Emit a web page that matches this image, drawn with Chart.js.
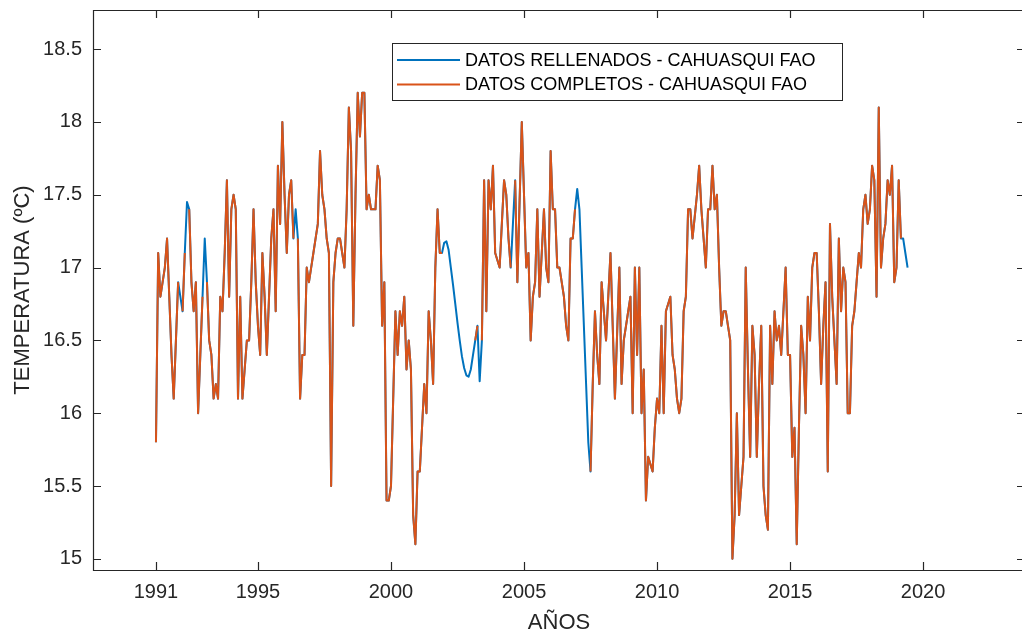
<!DOCTYPE html>
<html>
<head>
<meta charset="utf-8">
<title>Temperatura - Cahuasqui FAO</title>
<script src="https://cdn.jsdelivr.net/npm/chart.js@4.4.1/dist/chart.umd.min.js"></script>
<style>
  html, body { margin: 0; padding: 0; background: #fff; overflow: hidden; }
  #wrap { width: 1040px; height: 639px; }
</style>
</head>
<body>
<div id="wrap"><canvas id="tempChart" width="1040" height="639"></canvas></div>
<script>
// serie mensual, desde marzo de 1991
const startYear = 1991;
const startMonth = 3;

// temperatura media mensual (ºC), una fila por año
const tempSeries = [
  /* 1991 */ 15.8, 17.1, 16.8, 16.9, 17.0, 17.2, 16.8, 16.4, 16.1, 16.5,
  /* 1992 */ 16.9, 16.8, 16.7, 17.1, 17.45, 17.4, 16.9, 16.7, 16.9, 16.0, 16.4, 16.8,
  /* 1993 */ 17.2, 16.9, 16.5, 16.4, 16.1, 16.2, 16.1, 16.8, 16.7, 17.1, 17.6, 16.8,
  /* 1994 */ 17.4, 17.5, 17.4, 16.1, 16.8, 16.1, 16.3, 16.5, 16.5, 16.9, 17.4, 16.9,
  /* 1995 */ 16.6, 16.4, 17.1, 16.8, 16.4, 16.8, 17.2, 17.4, 16.7, 17.7, 17.3, 18.0,
  /* 1996 */ 17.5, 17.1, 17.5, 17.6, 17.2, 17.4, 17.2, 16.1, 16.4, 16.4, 17.0, 16.9,
  /* 1997 */ 17.0, 17.1, 17.2, 17.3, 17.8, 17.5, 17.4, 17.2, 17.1, 15.5, 16.9, 17.1,
  /* 1998 */ 17.2, 17.2, 17.1, 17.0, 17.4, 18.1, 17.8, 16.6, 17.5, 18.2, 17.9, 18.2,
  /* 1999 */ 18.2, 17.4, 17.5, 17.4, 17.4, 17.4, 17.7, 17.6, 16.6, 16.9, 15.4, 15.4,
  /* 2000 */ 15.5, 16.1, 16.7, 16.4, 16.7, 16.6, 16.8, 16.3, 16.5, 16.3, 15.3, 15.1,
  /* 2001 */ 15.6, 15.6, 15.9, 16.2, 16.0, 16.7, 16.5, 16.2, 17.0, 17.4, 17.1, 17.1,
  /* 2002 */ 17.17, 17.18, 17.12, 17.0, 16.88, 16.75, 16.62, 16.5, 16.39, 16.31, 16.26, 16.25,
  /* 2003 */ 16.3, 16.4, 16.5, 16.6, 16.22, 16.5, 17.6, 16.7, 17.6, 17.4, 17.7, 17.1,
  /* 2004 */ 17.05, 17.0, 17.3, 17.6, 17.5, 17.2, 17.0, 17.3, 17.6, 16.9, 17.45, 18.0,
  /* 2005 */ 17.5, 17.0, 17.1, 16.5, 16.8, 16.9, 17.4, 16.8, 17.1, 17.4, 17.0, 16.9,
  /* 2006 */ 17.8, 17.4, 17.4, 17.0, 17.0, 16.9, 16.8, 16.6, 16.5, 17.2, 17.2, 17.4,
  /* 2007 */ 17.54, 17.4, 17.0, 16.6, 16.2, 15.8, 15.6, 16.2, 16.7, 16.4, 16.2, 16.9,
  /* 2008 */ 16.7, 16.5, 16.8, 17.1, 16.6, 16.1, 16.55, 17.0, 16.2, 16.5, 16.6, 16.7,
  /* 2009 */ 16.8, 16.0, 17.0, 16.4, 17.0, 16.0, 16.3, 15.4, 15.7, 15.65, 15.6, 15.9,
  /* 2010 */ 16.1, 16.0, 16.6, 16.0, 16.7, 16.75, 16.8, 16.4, 16.3, 16.1, 16.0, 16.1,
  /* 2011 */ 16.7, 16.8, 17.4, 17.4, 17.2, 17.35, 17.5, 17.7, 17.4, 17.2, 17.0, 17.4,
  /* 2012 */ 17.4, 17.7, 17.4, 17.5, 17.0, 16.6, 16.7, 16.7, 16.6, 16.5, 15.0, 15.3,
  /* 2013 */ 16.0, 15.3, 15.5, 15.7, 17.0, 16.3, 15.7, 16.6, 16.4, 15.7, 16.2, 16.6,
  /* 2014 */ 15.5, 15.3, 15.2, 16.6, 16.2, 16.7, 16.5, 16.6, 16.4, 16.7, 17.0, 16.4,
  /* 2015 */ 16.4, 15.7, 15.9, 15.1, 15.9, 16.6, 16.4, 16.0, 16.8, 16.5, 17.0, 17.1,
  /* 2016 */ 17.1, 16.7, 16.2, 16.6, 16.9, 15.6, 17.3, 16.8, 16.5, 16.2, 17.2, 16.7,
  /* 2017 */ 17.0, 16.9, 16.0, 16.0, 16.6, 16.7, 16.9, 17.1, 17.0, 17.4, 17.5, 17.3,
  /* 2018 */ 17.4, 17.7, 17.6, 16.8, 18.1, 17.0, 17.2, 17.3, 17.6, 17.5, 17.7, 16.9,
  /* 2019 */ 17.0, 17.6, 17.2, 17.2, 17.1, 17.0
];

// meses sin dato original (posición en tempSeries), completados por relleno
const filledMonths = [
  11, 14, 22, 63,
  130, 131, 132, 133, 134, 135, 136, 137, 138, 139, 140, 141, 142, 143,
  146, 161,
  190, 191, 192, 193, 194, 195,
  337, 338, 339
];

const xTicks = [1991 + 2 / 12, 1995, 2000, 2005, 2010, 2015, 2020];
const xTickLabels = ['1991', '1995', '2000', '2005', '2010', '2015', '2020'];
const yTicks = [15, 15.5, 16, 16.5, 17, 17.5, 18, 18.5];
const yTickLabels = ['15', '15.5', '16', '16.5', '17', '17.5', '18', '18.5'];

const AXIS = '#262626';
const FONT = '"Liberation Sans", Arial, Helvetica, sans-serif';
Chart.defaults.font.family = FONT;

const monthX = i => startYear + (startMonth - 1 + i) / 12;
const rellenados = tempSeries.map((t, i) => ({ x: monthX(i), y: t }));
const completos = tempSeries.map((t, i) => ({ x: monthX(i), y: filledMonths.includes(i) ? null : t }));

// sin márgenes extra por las etiquetas de los extremos
const noEdgePadding = s => {
  s.paddingTop = 0; s.paddingBottom = 0;
  s.paddingLeft = 0; s.paddingRight = 0;
};

// ejes superior, inferior e izquierdo, con marcas hacia dentro en los cuatro lados
const axesBox = {
  id: 'axesBox',
  afterDraw(chart) {
    const { ctx, chartArea: a, scales: { x, y } } = chart;
    const len = 8;
    const L = a.left + 0.5, T = a.top + 0.5, B = a.bottom + 0.5;
    ctx.save();
    ctx.strokeStyle = AXIS;
    ctx.lineWidth = 1.2;
    ctx.beginPath();
    ctx.moveTo(chart.width, T); ctx.lineTo(L, T);
    ctx.lineTo(L, B); ctx.lineTo(chart.width, B);
    xTicks.forEach(v => {
      const px = Math.round(x.getPixelForValue(v)) + 0.5;
      ctx.moveTo(px, a.bottom); ctx.lineTo(px, a.bottom - len);
      ctx.moveTo(px, a.top); ctx.lineTo(px, a.top + len);
    });
    yTicks.forEach(v => {
      const py = Math.round(y.getPixelForValue(v)) + 0.5;
      ctx.moveTo(a.left, py); ctx.lineTo(a.left + len, py);
      ctx.moveTo(a.right, py); ctx.lineTo(a.right - len, py);
    });
    ctx.stroke();
    ctx.restore();
  }
};

// leyenda dentro del área de trazado
const boxLegend = {
  id: 'boxLegend',
  afterDraw(chart) {
    const { ctx } = chart;
    const left = 392, top = 43, w = 450, h = 57;
    ctx.save();
    ctx.fillStyle = '#fff';
    ctx.fillRect(left, top, w, h);
    ctx.strokeStyle = AXIS;
    ctx.lineWidth = 1;
    ctx.strokeRect(left + 0.5, top + 0.5, w, h);
    ctx.font = '18px ' + FONT;
    ctx.textBaseline = 'middle';
    chart.data.datasets.forEach((ds, i) => {
      const cy = top + 17 + i * 24.5;
      ctx.strokeStyle = ds.borderColor;
      ctx.lineWidth = 2;
      ctx.beginPath();
      ctx.moveTo(left + 5, cy);
      ctx.lineTo(left + 68, cy);
      ctx.stroke();
      ctx.fillStyle = '#000';
      ctx.fillText(ds.label, left + 73, cy + 1);
    });
    ctx.restore();
  }
};

new Chart(document.getElementById('tempChart'), {
  type: 'line',
  data: {
    datasets: [
      {
        label: 'DATOS RELLENADOS - CAHUASQUI FAO',
        data: rellenados,
        borderColor: '#0072BD',
        borderWidth: 2,
        pointRadius: 0,
        borderJoinStyle: 'round',
        order: 1
      },
      {
        label: 'DATOS COMPLETOS - CAHUASQUI FAO',
        data: completos,
        borderColor: '#D95319',
        borderWidth: 2,
        pointRadius: 0,
        borderJoinStyle: 'round',
        spanGaps: false,
        order: 0
      }
    ]
  },
  options: {
    responsive: false,
    animation: false,
    events: [],
    layout: { padding: { top: 10, right: 15, left: 0, bottom: 0 } },
    plugins: { legend: { display: false }, tooltip: { enabled: false } },
    scales: {
      x: {
        type: 'linear',
        min: 1988.80,
        max: 2023.83,
        grid: { display: false, drawTicks: false },
        border: { display: false },
        afterBuildTicks: s => { s.ticks = xTicks.map(v => ({ value: v })); },
        afterFit: s => { s.height = 69; noEdgePadding(s); },
        ticks: {
          autoSkip: false,
          maxRotation: 0,
          padding: 10,
          color: AXIS,
          font: { size: 20 },
          callback: (v, i) => xTickLabels[i]
        },
        title: {
          display: true,
          text: 'AÑOS',
          color: AXIS,
          font: { size: 22 },
          padding: { top: 0, bottom: 3 }
        }
      },
      y: {
        type: 'linear',
        min: 14.923,
        max: 18.769,
        grid: { display: false, drawTicks: false },
        border: { display: false },
        afterBuildTicks: s => { s.ticks = yTicks.map(v => ({ value: v })); },
        afterFit: s => { s.width = 93; noEdgePadding(s); },
        ticks: {
          padding: 11,
          color: AXIS,
          font: { size: 20 },
          callback: (v, i) => yTickLabels[i]
        },
        title: {
          display: true,
          text: 'TEMPERATURA (ºC)',
          color: AXIS,
          font: { size: 22 },
          padding: { top: 10, bottom: 0 }
        }
      }
    }
  },
  plugins: [axesBox, boxLegend]
});
</script>
</body>
</html>
